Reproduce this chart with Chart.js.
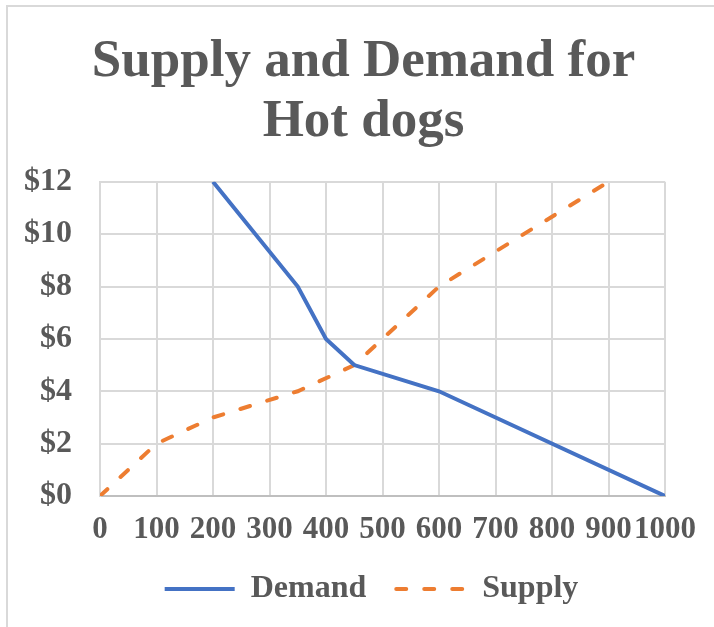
<!DOCTYPE html>
<html lang="en">
<head>
    <meta charset="UTF-8">
    <title>Supply and Demand for Hot dogs</title>
    <script src="https://cdn.jsdelivr.net/npm/chart.js"></script>
    <style>
        html, body {
            margin: 0;
            padding: 0;
            background: #ffffff;
            overflow: hidden;
        }

        /* light chart-area frame, cut off on the right and bottom like the original */
        #frame {
            position: absolute;
            left: 6px;
            top: 5px;
            width: 760px;
            height: 700px;
            border-left: 2px solid #d9d9d9;
            border-top: 2px solid #d9d9d9;
        }

        #chartContainer {
            position: absolute;
            left: 0;
            top: 0;
            width: 714px;
            height: 627px;
        }
    </style>
</head>
<body>
    <div id="frame"></div>
    <div id="chartContainer">
        <canvas id="sdChart"></canvas>
    </div>

    <script>
        // Demand curve (quantity, price)
        const demandQty = [200, 350, 400, 450, 600, 1000];
        const demandPrice = [12, 8, 6, 5, 4, 0];

        // Supply curve (quantity, price)
        const supplyQty = [0, 100, 200, 350, 450, 600, 900];
        const supplyPrice = [0, 2, 3, 4, 5, 8, 12];

        const titleLines = ['Supply and Demand for', 'Hot dogs'];
        const seriesNames = ['Demand', 'Supply'];

        const toPoints = (xs, ys) => xs.map((x, i) => ({ x: x, y: ys[i] }));

        const textColor = '#595959';
        const gridColor = '#d9d9d9';
        const serif = "'Liberation Serif', 'Times New Roman', serif";

        // Excel centres title and legend on the whole chart, not on the
        // area left of the padding - nudge both boxes after layout.
        const centreBoxes = {
            id: 'centreBoxes',
            afterLayout(chart) {
                const t = chart.titleBlock;
                if (t) { t.left += 31; t.right += 31; }
                const l = chart.legend;
                if (l) { l.left += 39; l.right += 39; }
            },
        };

        // point-style legend items lose the dataset dash, put it back
        const legendLabels = (chart) => {
            const items = Chart.defaults.plugins.legend.labels.generateLabels(chart);
            items.forEach((item) => {
                const ds = chart.data.datasets[item.datasetIndex];
                item.lineDash = ds.borderDash || [];
                item.lineWidth = ds.borderWidth;
                item.lineCap = ds.borderCapStyle || 'butt';
                item.strokeStyle = ds.borderColor;
            });
            return items;
        };

        const ctx = document.getElementById('sdChart').getContext('2d');
        new Chart(ctx, {
            type: 'scatter',
            data: {
                datasets: [
                    {
                        label: seriesNames[0],
                        data: toPoints(demandQty, demandPrice),
                        showLine: true,
                        borderColor: '#4472c4',
                        backgroundColor: '#4472c4',
                        borderWidth: 4,
                        pointRadius: 0,
                        pointHoverRadius: 0,
                    },
                    {
                        label: seriesNames[1],
                        data: toPoints(supplyQty, supplyPrice),
                        showLine: true,
                        borderColor: '#ed7d31',
                        backgroundColor: '#ed7d31',
                        borderWidth: 4,
                        borderDash: [10, 18],
                        borderCapStyle: 'round',
                        pointRadius: 0,
                        pointHoverRadius: 0,
                    },
                ],
            },
            options: {
                responsive: true,
                maintainAspectRatio: false,
                animation: false,
                layout: {
                    padding: { left: 0, right: 49, top: 0, bottom: 12 },
                },
                plugins: {
                    title: {
                        display: true,
                        text: titleLines,
                        color: textColor,
                        font: { family: serif, size: 53, weight: 'bold', lineHeight: 1.13 },
                        padding: { top: 32, bottom: 30 },
                    },
                    legend: {
                        position: 'bottom',
                        labels: {
                            usePointStyle: true,
                            pointStyle: 'line',
                            pointStyleWidth: 70,
                            color: textColor,
                            font: { family: serif, size: 32, weight: 'bold' },
                            padding: 30,
                            generateLabels: legendLabels,
                        },
                    },
                    tooltip: { enabled: false },
                },
                scales: {
                    x: {
                        type: 'linear',
                        min: 0,
                        max: 1000,
                        ticks: {
                            stepSize: 100,
                            color: textColor,
                            font: { family: serif, size: 31, weight: 'bold' },
                            padding: 15,
                            maxRotation: 0,
                            autoSkip: false,
                            callback: (v) => String(v),
                        },
                        grid: { color: gridColor, lineWidth: 2, drawTicks: false },
                        border: { color: '#bfbfbf', width: 2 },
                        afterFit: (scale) => { scale.height = 47; },
                    },
                    y: {
                        type: 'linear',
                        min: 0,
                        max: 12,
                        ticks: {
                            stepSize: 2,
                            color: textColor,
                            font: { family: serif, size: 32, weight: 'bold' },
                            padding: 28,
                            callback: (v) => '$' + v,
                        },
                        grid: { color: gridColor, lineWidth: 2, drawTicks: false },
                        border: { color: gridColor, width: 2 },
                        afterFit: (scale) => { scale.width = 100; },
                    },
                },
            },
            plugins: [centreBoxes],
        });
    </script>
</body>
</html>
